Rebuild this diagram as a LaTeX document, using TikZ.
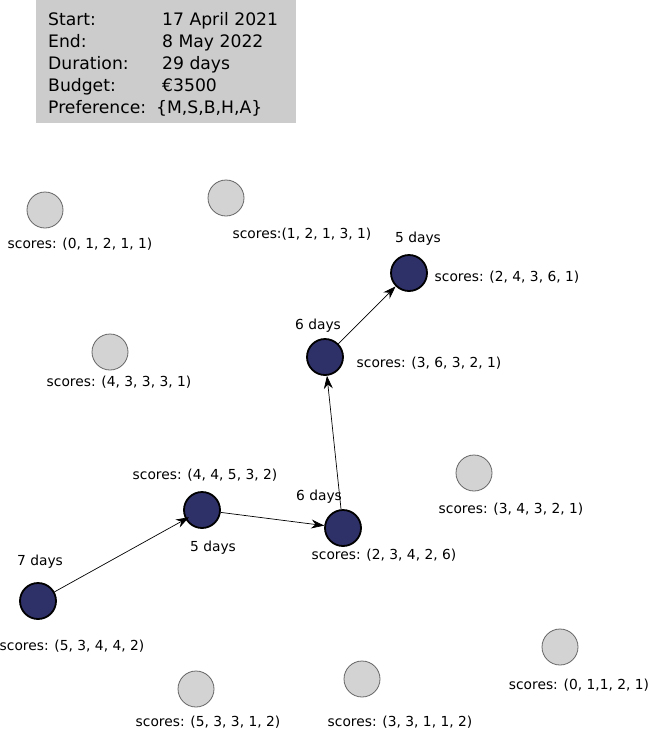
\documentclass[tikz,border=0pt]{standalone}
\usepackage{fontspec}
\setmainfont{DejaVu Sans}
\usetikzlibrary{arrows.meta}
\definecolor{navy}{HTML}{2E3068}
\definecolor{hdrgray}{HTML}{CCCCCC}
\definecolor{nodegray}{HTML}{D3D3D3}
\tikzset{
  visited/.style={circle, draw=black, line width=1.8pt, fill=navy, minimum size=36pt, inner sep=0pt},
  other/.style={circle, draw=black!60, line width=0.8pt, fill=nodegray, minimum size=36pt, inner sep=0pt},
  lbl/.style={font=\fontsize{13.8}{16}\selectfont, inner sep=0pt, text height=13pt, text depth=3pt, anchor=center},
  hdr/.style={font=\fontsize{17.2}{20}\selectfont, inner sep=0pt, anchor=base west},
  link/.style={-{Stealth[length=13pt,width=9pt]}, line width=0.7pt}
}
\begin{document}
\begin{tikzpicture}[x=1pt,y=-1pt]
\useasboundingbox (0,0) rectangle (649,731);
% header
\fill[hdrgray] (36,0) rectangle (296,123);
\node[hdr] (h1) at (48,25) {Start:};
\node[hdr] (h2) at (48,47) {End:};
\node[hdr] (h3) at (48,69) {Duration:};
\node[hdr] (h4) at (48,91) {Budget:};
\node[hdr] (h5) at (48,113) {Preference:};
\node[hdr] (v1) at (162,25) {17 April 2021};
\node[hdr] (v2) at (162,47) {8 May 2022};
\node[hdr] (v3) at (162,69) {29 days};
\node[hdr] (v4) at (162,91) {€3500};
\node[hdr] (v5) at (156,113) {\{M,S,B,H,A\}};
% gray nodes
\node[other] (g1) at (45,210) {};
\node[lbl] (g1l) at (80,243) {scores: (0, 1, 2, 1, 1)};
\node[other] (g2) at (226,198) {};
\node[lbl] (g2l) at (302,233) {scores:(1, 2, 1, 3, 1)};
\node[other] (g3) at (110,352) {};
\node[lbl] (g3l) at (119,381) {scores: (4, 3, 3, 3, 1)};
\node[other] (g4) at (474,473) {};
\node[lbl] (g4l) at (511,508) {scores: (3, 4, 3, 2, 1)};
\node[other] (g5) at (560,647) {};
\node[lbl] (g5l) at (579,684) {scores: (0, 1,1, 2, 1)};
\node[other] (g6) at (196,689) {};
\node[lbl] (g6l) at (208,721) {scores: (5, 3, 3, 1, 2)};
\node[other] (g7) at (362,679) {};
\node[lbl] (g7l) at (400,721) {scores: (3, 3, 1, 1, 2)};
% visited nodes
\node[visited] (a) at (38,601) {};
\node[lbl] (ad) at (40,560) {7 days};
\node[lbl] (as) at (72,645) {scores: (5, 3, 4, 4, 2)};
\node[visited] (b) at (202,510) {};
\node[lbl] (bs) at (205,474) {scores: (4, 4, 5, 3, 2)};
\node[lbl] (bd) at (213,546) {5 days};
\node[visited] (c) at (343,528) {};
\node[lbl] (cd) at (319,495) {6 days};
\node[lbl] (cs) at (384,554) {scores: (2, 3, 4, 2, 6)};
\node[visited] (d) at (325,357) {};
\node[lbl] (dd) at (318,324) {6 days};
\node[lbl] (ds) at (429,362) {scores: (3, 6, 3, 2, 1)};
\node[visited] (e) at (409,273) {};
\node[lbl] (ed) at (418,237) {5 days};
\node[lbl] (es) at (507,276) {scores: (2, 4, 3, 6, 1)};
% path
\draw[link, shorten >=-4pt] (a) -- (b);
\draw[link] (b) -- (c);
\draw[link] (c) -- (d);
\draw[link] (d) -- (e);
\end{tikzpicture}
\end{document}
